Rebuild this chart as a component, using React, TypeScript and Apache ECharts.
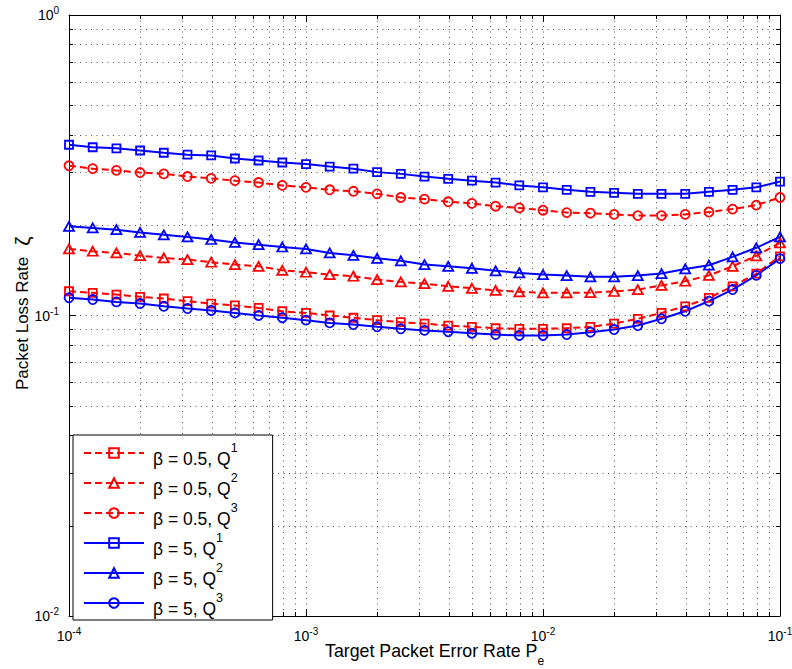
import React, { useEffect, useRef } from 'react';
import * as echarts from 'echarts';

// x values: target packet error rate (10 points per decade)
const targetPER = [
  1.0e-4, 1.259e-4, 1.585e-4, 1.995e-4, 2.512e-4, 3.162e-4, 3.981e-4, 5.012e-4, 6.31e-4, 7.943e-4,
  1.0e-3, 1.259e-3, 1.585e-3, 1.995e-3, 2.512e-3, 3.162e-3, 3.981e-3, 5.012e-3, 6.31e-3, 7.943e-3,
  1.0e-2, 1.259e-2, 1.585e-2, 1.995e-2, 2.512e-2, 3.162e-2, 3.981e-2, 5.012e-2, 6.31e-2, 7.943e-2,
  1.0e-1,
];

const beta05Q1 = [
  0.1204, 0.119, 0.1174, 0.1154, 0.1139, 0.1116, 0.1096, 0.108, 0.106, 0.1033,
  0.102, 0.1, 0.0983, 0.0965, 0.095, 0.094, 0.0926, 0.0917, 0.0907, 0.0903,
  0.0903, 0.0907, 0.0917, 0.094, 0.0975, 0.102, 0.1073, 0.1145, 0.125, 0.1379, 0.1574,
];
const beta05Q2 = [
  0.1666, 0.1636, 0.1615, 0.1582, 0.1554, 0.1535, 0.1504, 0.1477, 0.1458, 0.1414,
  0.1393, 0.1368, 0.1351, 0.1317, 0.1294, 0.1277, 0.1251, 0.1232, 0.1213, 0.1199,
  0.119, 0.119, 0.1192, 0.1202, 0.122, 0.1259, 0.13, 0.136, 0.1458, 0.158, 0.1744,
];
const beta05Q3 = [
  0.315, 0.308, 0.304, 0.299, 0.296, 0.29, 0.286, 0.281, 0.277, 0.271,
  0.267, 0.262, 0.259, 0.254, 0.247, 0.244, 0.239, 0.236, 0.231, 0.228,
  0.224, 0.22, 0.219, 0.217, 0.215, 0.215, 0.217, 0.221, 0.226, 0.233, 0.247,
];
const beta5Q1 = [
  0.37, 0.363, 0.36, 0.354, 0.348, 0.343, 0.341, 0.333, 0.328, 0.323,
  0.319, 0.313, 0.308, 0.3, 0.296, 0.29, 0.285, 0.281, 0.277, 0.271,
  0.267, 0.262, 0.258, 0.256, 0.254, 0.254, 0.254, 0.258, 0.262, 0.267, 0.279,
];
const beta5Q2 = [
  0.198, 0.1956, 0.193, 0.189, 0.1855, 0.1826, 0.179, 0.175, 0.172, 0.169,
  0.1665, 0.1615, 0.1586, 0.155, 0.152, 0.1477, 0.1458, 0.1436, 0.1408, 0.1386,
  0.1368, 0.1358, 0.1345, 0.1345, 0.1358, 0.1379, 0.1429, 0.147, 0.1567, 0.168, 0.1826,
];
const beta5Q3 = [
  0.1145, 0.113, 0.111, 0.1096, 0.1073, 0.1055, 0.1039, 0.102, 0.1, 0.0983,
  0.0965, 0.0945, 0.0933, 0.0917, 0.0903, 0.0892, 0.0883, 0.0873, 0.0864, 0.0858,
  0.0858, 0.0864, 0.088, 0.0898, 0.0926, 0.0975, 0.1033, 0.1116, 0.122, 0.136, 0.1546,
];

const seriesNames = [
  'β = 0.5, Q^1',
  'β = 0.5, Q^2',
  'β = 0.5, Q^3',
  'β = 5, Q^1',
  'β = 5, Q^2',
  'β = 5, Q^3',
];

// minor grid positions
const minorX = [
  2e-4, 3e-4, 4e-4, 5e-4, 6e-4, 7e-4, 8e-4, 9e-4,
  2e-3, 3e-3, 4e-3, 5e-3, 6e-3, 7e-3, 8e-3, 9e-3,
  2e-2, 3e-2, 4e-2, 5e-2, 6e-2, 7e-2, 8e-2, 9e-2,
];
const minorY = [
  0.02, 0.03, 0.04, 0.05, 0.06, 0.07, 0.08, 0.09,
  0.2, 0.3, 0.4, 0.5, 0.6, 0.7, 0.8, 0.9,
];

const X_MIN = 1e-4;
const X_MAX = 1e-1;
const Y_MIN = 1e-2;
const Y_MAX = 1;

const FONT = "'Liberation Sans', Arial, Helvetica, sans-serif";
const RED = '#ff0000';
const BLUE = '#0000ff';
const GRID = '#555';
const DOTS = [1, 4.5];

const pairs = (ys: number[]) => targetPER.map((x, i) => [x, ys[i]]);

const powLabel = (v: number) => {
  const e = Math.round(Math.log10(v));
  return `{b|10}{s|${e}}`;
};

const tickRich = {
  b: { fontFamily: FONT, fontSize: 14, lineHeight: 16, color: '#000' },
  s: { fontFamily: FONT, fontSize: 10, lineHeight: 16, padding: [0, 0, 9, 0], color: '#000' },
};

export default function App() {
  const ref = useRef<HTMLDivElement>(null);

  useEffect(() => {
    const chart = echarts.init(ref.current!, null, { renderer: 'svg' });

    const mk = (name: string, ys: number[], color: string, symbol: string, dashed: boolean, size: number | number[]) => ({
      type: 'line',
      name,
      data: pairs(ys),
      symbol,
      symbolSize: size,
      showAllSymbol: true,
      lineStyle: { color, width: 2, type: dashed ? [7, 4] : 'solid' },
      itemStyle: { color: 'transparent', borderColor: color, borderWidth: 1.8 },
      emphasis: { disabled: true },
      z: 3,
    });

    const minorXSeries = {
      type: 'custom',
      name: 'minorX',
      silent: true,
      z: 1,
      clip: false,
      data: minorX.map((v) => [v, Y_MIN]),
      renderItem: (params: any, api: any) => {
        const cs = params.coordSys;
        const px = Math.round(api.coord([api.value(0), api.value(1)])[0]) + 0.5;
        const top = cs.y;
        const bottom = cs.y + cs.height;
        return {
          type: 'group',
          children: [
            { type: 'line', shape: { x1: px, y1: top, x2: px, y2: bottom }, style: { stroke: GRID, lineWidth: 1, lineDash: DOTS } },
            { type: 'line', shape: { x1: px, y1: bottom, x2: px, y2: bottom - 4 }, style: { stroke: '#000', lineWidth: 1 } },
            { type: 'line', shape: { x1: px, y1: top, x2: px, y2: top + 4 }, style: { stroke: '#000', lineWidth: 1 } },
          ],
        };
      },
    };

    const minorYSeries = {
      type: 'custom',
      name: 'minorY',
      silent: true,
      z: 1,
      clip: false,
      data: minorY.map((v) => [X_MIN, v]),
      renderItem: (params: any, api: any) => {
        const cs = params.coordSys;
        const py = Math.round(api.coord([api.value(0), api.value(1)])[1]) + 0.5;
        const left = cs.x;
        const right = cs.x + cs.width;
        return {
          type: 'group',
          children: [
            { type: 'line', shape: { x1: left, y1: py, x2: right, y2: py }, style: { stroke: GRID, lineWidth: 1, lineDash: DOTS } },
            { type: 'line', shape: { x1: left, y1: py, x2: left + 4, y2: py }, style: { stroke: '#000', lineWidth: 1 } },
            { type: 'line', shape: { x1: right, y1: py, x2: right - 4, y2: py }, style: { stroke: '#000', lineWidth: 1 } },
          ],
        };
      },
    };

    const axisCommon = {
      type: 'log',
      logBase: 10,
      axisLine: { show: true, lineStyle: { color: '#000', width: 1 } },
      axisTick: { show: true, inside: true, length: 7, lineStyle: { color: '#000', width: 1 } },
    };

    const option: any = {
      animation: false,
      backgroundColor: '#fff',
      textStyle: { fontFamily: FONT },
      grid: { left: 69, top: 15, right: 12, bottom: 53, containLabel: false, outerBoundsMode: 'none' },
      xAxis: [
        {
          ...axisCommon,
          position: 'bottom',
          min: X_MIN,
          max: X_MAX,
          axisLabel: { show: true, margin: 12, formatter: powLabel, rich: tickRich, fontFamily: FONT, fontSize: 14 },
          splitLine: { show: true, lineStyle: { color: GRID, width: 1, type: DOTS } },
        },
        {
          ...axisCommon,
          position: 'top',
          min: X_MIN,
          max: X_MAX,
          axisLabel: { show: false },
          splitLine: { show: false },
        },
      ],
      yAxis: [
        {
          ...axisCommon,
          position: 'left',
          min: Y_MIN,
          max: Y_MAX,
          axisLabel: { show: true, margin: 10, formatter: powLabel, rich: tickRich, fontFamily: FONT, fontSize: 14 },
          splitLine: { show: true, lineStyle: { color: GRID, width: 1, type: DOTS } },
        },
        {
          ...axisCommon,
          position: 'right',
          min: Y_MIN,
          max: Y_MAX,
          axisLabel: { show: false },
          splitLine: { show: false },
        },
      ],
      legend: {
        data: seriesNames,
        orient: 'vertical',
        left: 73,
        top: 435,
        itemWidth: 60,
        itemHeight: 12,
        itemGap: 0,
        padding: [3, 35, 2, 10],
        backgroundColor: '#fff',
        borderColor: '#000',
        borderWidth: 1,
        borderRadius: 0,
        selectedMode: false,
        formatter: (name: string) => {
          const [a, b] = name.split('^');
          return `{t|${a}}{s|${b}}`;
        },
        textStyle: {
          fontFamily: FONT,
          fontSize: 17.5,
          color: '#000',
          rich: {
            t: { fontFamily: FONT, fontSize: 17.5, lineHeight: 29, padding: [12, 0, 0, 4], color: '#000' },
            s: { fontFamily: FONT, fontSize: 12.5, lineHeight: 29, padding: [0, 0, 11, 0], color: '#000' },
          },
        },
      },
      graphic: [
        {
          type: 'text',
          x: 325,
          y: 651,
          silent: true,
          style: {
            text: '{t|Target Packet Error Rate P}{u|e}',
            align: 'left',
            verticalAlign: 'middle',
            fill: '#000',
            rich: {
              t: { fontFamily: FONT, fontSize: 17.8, lineHeight: 20, fill: '#000' },
              u: { fontFamily: FONT, fontSize: 12, lineHeight: 20, padding: [19, 0, 0, 0], fill: '#000' },
            },
          },
        },
        {
          type: 'text',
          x: 22,
          y: 390,
          rotation: Math.PI / 2,
          silent: true,
          style: {
            text: '{t|Packet Loss Rate}{z|ζ}',
            align: 'left',
            verticalAlign: 'middle',
            fill: '#000',
            rich: {
              t: { fontFamily: FONT, fontSize: 17, lineHeight: 22, fill: '#000' },
              z: { fontFamily: FONT, fontSize: 21, lineHeight: 22, padding: [0, 0, 0, 11], fill: '#000' },
            },
          },
        },
      ],
      series: [
        minorXSeries,
        minorYSeries,
        mk(seriesNames[0], beta05Q1, RED, 'rect', true, 8),
        mk(seriesNames[1], beta05Q2, RED, 'triangle', true, [10, 9]),
        mk(seriesNames[2], beta05Q3, RED, 'circle', true, 9),
        mk(seriesNames[3], beta5Q1, BLUE, 'rect', false, 8),
        mk(seriesNames[4], beta5Q2, BLUE, 'triangle', false, [10, 9]),
        mk(seriesNames[5], beta5Q3, BLUE, 'circle', false, 9),
      ],
    };

    chart.setOption(option);
    return () => chart.dispose();
  }, []);

  return (
    <div
      ref={ref}
      style={{ position: 'absolute', left: 0, top: 0, width: 792, height: 669, background: '#fff' }}
    />
  );
}
